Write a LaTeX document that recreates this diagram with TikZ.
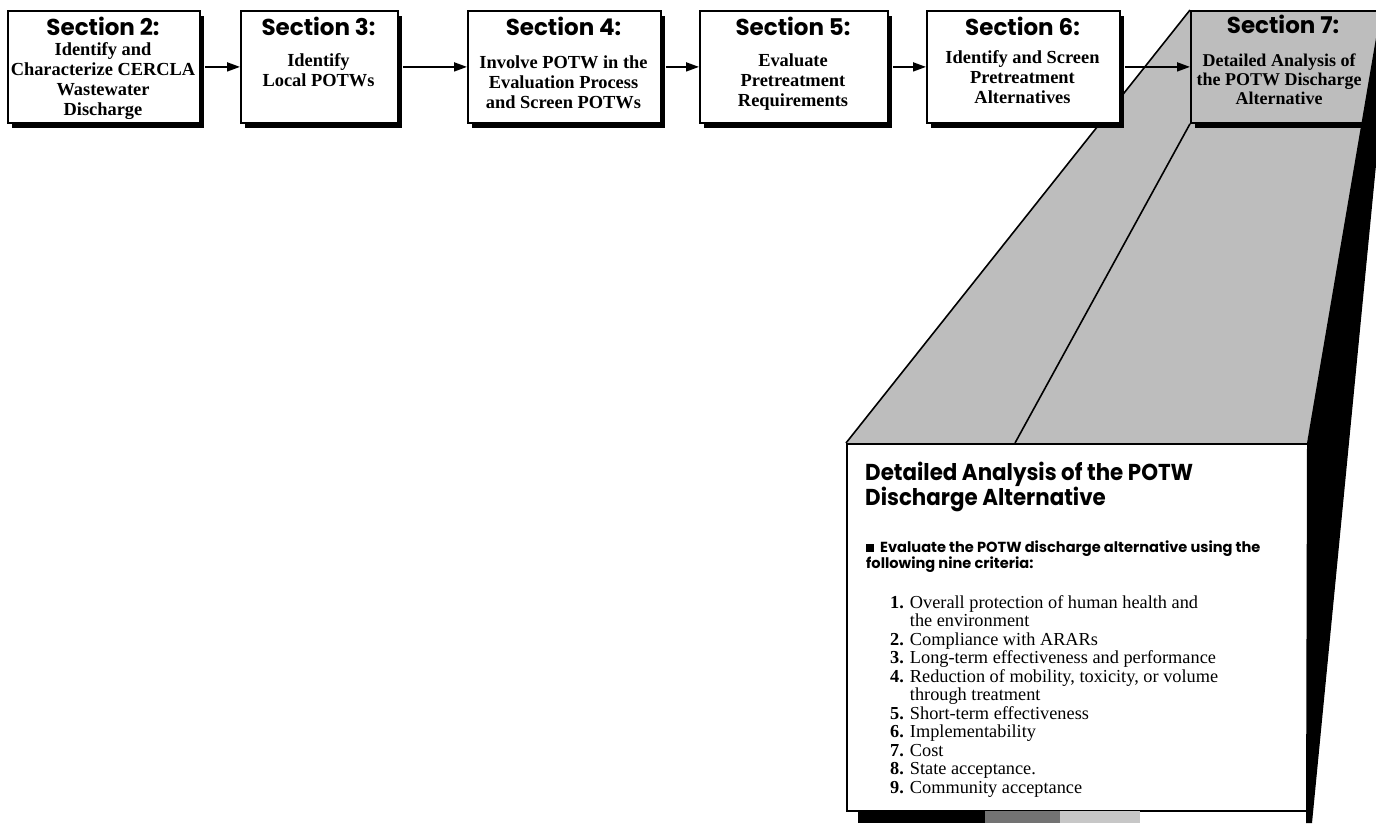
\documentclass[tikz,border=0pt]{standalone}
\usepackage{fontspec}
\setmainfont{Liberation Serif}
\newfontfamily\geo{Poppins}
\newfontfamily\geonarrow{Poppins}[FakeStretch=0.93]
\usetikzlibrary{arrows.meta,shadows}
\definecolor{halftone}{gray}{0.74}
\newcommand\stk[1]{\begin{tabular}{@{}c@{}}#1\end{tabular}}
\tikzset{
  stage/.style={draw=black, line width=1.8pt, fill=white, anchor=north west, inner sep=0pt,
    minimum height=112pt,
    drop shadow={shadow xshift=4pt, shadow yshift=-5pt, fill=black, opacity=1}},
  head/.style={anchor=base, inner sep=0pt, font=\geo\bfseries\fontsize{23}{23}\selectfont},
  sub/.style={anchor=north, inner sep=0pt, font=\bfseries\fontsize{18.4}{20}\selectfont},
  flow/.style={line width=1.8pt, -{Triangle[length=13pt,width=9pt]}},
  edge/.style={line width=1.6pt},
  panelhead/.style={anchor=base west, inner sep=0pt, font=\geonarrow\bfseries\fontsize{23}{23}\selectfont},
  panelnote/.style={anchor=base west, inner sep=0pt, font=\geo\bfseries\fontsize{14.6}{14.6}\selectfont},
}
\begin{document}
\begin{tikzpicture}[x=1pt,y=-1pt]
\useasboundingbox (0,0) rectangle (1376,823);
\clip (0,0) rectangle (1376,823);

% fan-out joining the Section 7 stage to its detail panel
\fill[halftone] (1190,10) -- (1390,10) -- (1390,0) -- (1307,443) -- (846,443) -- cycle;

% detail panel
\node[draw=black, line width=1.6pt, fill=white, anchor=north west, inner sep=0pt,
      minimum width=461pt, minimum height=367pt] (detail) at (846,443) {};
\coordinate (fold) at (1015,443);

% Section 7 stage
\node[stage, fill=halftone, minimum width=200pt] (s7) at (1190,10) {};
\draw[edge] (s7.north west) -- (detail.north west);
\draw[edge] (s7.south west) -- (fold);

% stages
\node[stage, minimum width=192pt] (b2) at (7,10) {};
\node[stage, minimum width=157pt] (b3) at (240,10) {};
\node[stage, minimum width=193pt] (b4) at (467,10) {};
\node[stage, minimum width=188pt] (b5) at (699,10) {};
\node[stage, minimum width=193pt] (b6) at (926,10) {};

% flow arrows
\draw[flow] ([xshift=4pt]b2.east) -- (b3.west);
\draw[flow] ([xshift=4pt]b3.east) -- (b4.west);
\draw[flow] ([xshift=4pt]b4.east) -- (b5.west);
\draw[flow] ([xshift=4pt]b5.east) -- (b6.west);
\draw[flow] ([xshift=4pt]b6.east) -- (s7.west);

% dark side face and base of the detail panel
\fill[black] (1376,38) -- (1307,443) -- (1306,823) -- (1312,823) -- (1376,165) -- cycle;
\fill[black] (858,811) rectangle (985,823);
\fill[black!55] (985,811) rectangle (1060,823);
\fill[black!22] (1060,811) rectangle (1140,823);

% stage titles
\node[head] (h2) at (103,35) {Section 2:};
\node[head] (h3) at (318.5,35) {Section 3:};
\node[head] (h4) at (563.5,35) {Section 4:};
\node[head] (h5) at (793,35) {Section 5:};
\node[head] (h6) at (1022.5,35) {Section 6:};
\node[head] (h7) at (1283,33) {Section 7:};

\node[sub] (t2) at (103,41) {\stk{Identify and\\Characterize CERCLA\\Wastewater\\Discharge}};
\node[sub] (t3) at (318.5,52) {\stk{Identify\\Local POTWs}};
\node[sub] (t4) at (563.5,54) {\stk{Involve POTW in the\\Evaluation Process\\and Screen POTWs}};
\node[sub] (t5) at (793,52) {\stk{Evaluate\\Pretreatment\\Requirements}};
\node[sub] (t6) at (1022.5,49) {\stk{Identify and Screen\\Pretreatment\\Alternatives}};
\node[sub, font=\bfseries\fontsize{18}{19}\selectfont] (t7) at (1279,53) {\stk{Detailed Analysis of\\the POTW Discharge\\Alternative}};

% detail panel contents
\node[panelhead] (d1) at (865,480) {Detailed Analysis of the POTW};
\node[panelhead] (d2) at (865,505) {Discharge Alternative};
\node[panelnote] (e1) at (866,552) {\rule{8pt}{8pt}\hspace{6pt}Evaluate the POTW discharge alternative using the};
\node[panelnote] (e2) at (866,568) {following nine criteria:};
\node[anchor=north west, inner sep=0pt, font=\fontsize{18.3}{18.5}\selectfont] (crit) at (890,595) {%
  \begin{tabular}{@{}r@{\hspace{6pt}}l@{}}
  \textbf{1.} & Overall protection of human health and\\
              & the environment\\
  \textbf{2.} & Compliance with ARARs\\
  \textbf{3.} & Long-term effectiveness and performance\\
  \textbf{4.} & Reduction of mobility, toxicity, or volume\\
              & through treatment\\
  \textbf{5.} & Short-term effectiveness\\
  \textbf{6.} & Implementability\\
  \textbf{7.} & Cost\\
  \textbf{8.} & State acceptance.\\
  \textbf{9.} & Community acceptance
  \end{tabular}};
\end{tikzpicture}
\end{document}
